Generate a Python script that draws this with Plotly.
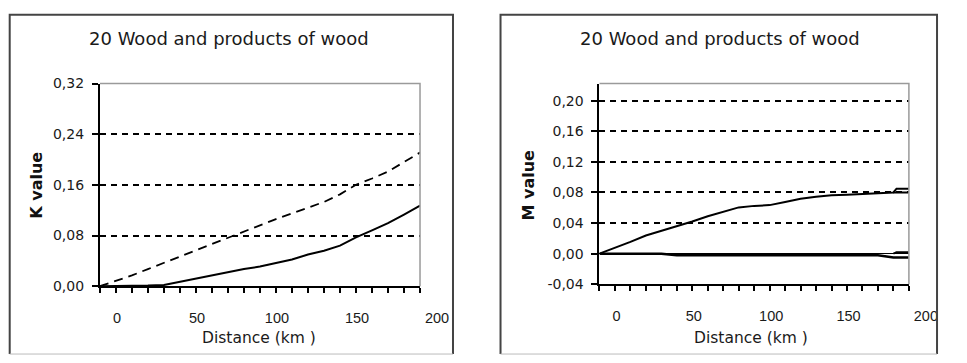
import plotly.graph_objects as go

# ---------------- data ----------------
DIST = [0, 10, 20, 30, 40, 50, 60, 70, 80, 90, 100,
        110, 120, 130, 140, 150, 160, 170, 180, 190, 200]

# Left chart: K value
K_DASHED = [0.000, 0.008, 0.017, 0.027, 0.037, 0.046, 0.056, 0.066, 0.077, 0.087, 0.097,
            0.106, 0.115, 0.124, 0.133, 0.145, 0.160, 0.170, 0.181, 0.196, 0.211]
K_SOLID = [0.000, 0.000, 0.000, 0.001, 0.002, 0.007, 0.012, 0.018, 0.023, 0.027, 0.031,
           0.036, 0.042, 0.050, 0.056, 0.064, 0.077, 0.088, 0.0995, 0.113, 0.127]

# Right chart: M value
M_UPPER_DIST = [0, 10, 20, 30, 40, 50, 60, 70, 80, 90, 100,
                110, 120, 130, 140, 150, 160, 170, 180, 190, 192, 200]
M_UPPER = [0.000, 0.0075, 0.0155, 0.0238, 0.030, 0.0355, 0.042, 0.049, 0.055, 0.0605, 0.0625,
           0.0635, 0.0675, 0.0718, 0.0743, 0.0763, 0.0772, 0.0781, 0.079, 0.080, 0.085, 0.085]
M_UPPER_ALT_DIST = [190, 200]
M_UPPER_ALT = [0.080, 0.080]
M_LOWER = [0.0, 0.0, 0.0, 0.0, 0.0, -0.002, -0.002, -0.002, -0.002, -0.002, -0.002,
           -0.002, -0.002, -0.002, -0.002, -0.002, -0.002, -0.002, -0.002, -0.005, -0.005]
M_LOWER_ALT_DIST = [190, 192, 200]
M_LOWER_ALT = [0.0, 0.002, 0.002]

X_TICKS = DIST
X_TICK_TEXT = ["0", "", "", "", "", "50", "", "", "", "", "100",
               "", "", "", "", "150", "", "", "", "", "200"]
K_TICKS = [0.00, 0.08, 0.16, 0.24, 0.32]
K_TICK_TEXT = ["0,00", "0,08", "0,16", "0,24", "0,32"]
M_TICKS = [-0.04, 0.00, 0.04, 0.08, 0.12, 0.16, 0.20]
M_TICK_TEXT = ["-0,04", "0,00", "0,04", "0,08", "0,12", "0,16", "0,20"]

TITLE = "20 Wood and products of wood"
X_TITLE = "Distance (km )"

# ---------------- layout helpers ----------------
W, H = 967, 363


def px(x):
    return x / W


def py(y):
    return 1 - y / H


fig = go.Figure()

line_black = dict(color="black", width=2)
fig.add_trace(go.Scatter(x=DIST, y=K_DASHED, mode="lines", xaxis="x", yaxis="y",
                         line=dict(color="black", width=1.8, dash="9px,6px")))
fig.add_trace(go.Scatter(x=DIST, y=K_SOLID, mode="lines", xaxis="x", yaxis="y",
                         line=line_black))

fig.add_trace(go.Scatter(x=M_UPPER_DIST, y=M_UPPER, mode="lines", xaxis="x2", yaxis="y2",
                         line=line_black))
fig.add_trace(go.Scatter(x=M_UPPER_ALT_DIST, y=M_UPPER_ALT, mode="lines", xaxis="x2", yaxis="y2",
                         line=line_black))
fig.add_trace(go.Scatter(x=DIST, y=M_LOWER, mode="lines", xaxis="x2", yaxis="y2",
                         line=dict(color="black", width=2.5)))
fig.add_trace(go.Scatter(x=M_LOWER_ALT_DIST, y=M_LOWER_ALT, mode="lines", xaxis="x2", yaxis="y2",
                         line=line_black))

xfont = dict(family="Liberation Sans, Arial, sans-serif", size=14.5, color="#1a1a1a")
yfont = dict(family="DejaVu Sans, sans-serif", size=14, color="#1a1a1a")


def xaxis_style(domain, anchor):
    return dict(domain=domain, anchor=anchor, range=[0, 200],
                tickmode="array", tickvals=X_TICKS, ticktext=X_TICK_TEXT,
                ticks="outside", ticklen=5, tickwidth=2, tickcolor="black",
                showline=True, linecolor="black", linewidth=2,
                showgrid=False, zeroline=False, tickfont=xfont,
                ticklabelshift=17, ticklabelstandoff=12, fixedrange=True)


def yaxis_style(domain, anchor, rng, vals, text, zero):
    return dict(domain=domain, anchor=anchor, range=rng,
                tickmode="array", tickvals=vals, ticktext=text,
                ticks="outside", ticklen=6, tickwidth=2, tickcolor="black",
                showline=True, linecolor="black", linewidth=2,
                showgrid=True, gridcolor="black", gridwidth=1.5, griddash="6px,5px",
                zeroline=zero, zerolinecolor="black", zerolinewidth=1.3,
                tickfont=yfont, ticklabelstandoff=5, fixedrange=True)


fig.update_layout(
    width=W, height=H, autosize=False,
    margin=dict(l=0, r=0, t=0, b=0),
    paper_bgcolor="white", plot_bgcolor="white",
    showlegend=False,
    xaxis=xaxis_style([px(103), px(433)], "y"),
    yaxis=yaxis_style([py(291), py(79)], "x", [0, 0.32], K_TICKS, K_TICK_TEXT, False),
    xaxis2=xaxis_style([px(618), px(937)], "y2"),
    yaxis2=yaxis_style([py(289), py(79)], "x2", [-0.04, 0.2225], M_TICKS, M_TICK_TEXT, True),
)

# plot-area frames (gray top/right) and outer chart boxes
shapes = []
for xr, yr in (("x domain", "y domain"), ("x2 domain", "y2 domain")):
    shapes.append(dict(type="path", xref=xr, yref=yr,
                       path="M 0,1 L 1,1 L 1,0",
                       line=dict(color="#9a9a9a", width=1.5), layer="above"))
for x0, x1 in ((10, 467), (516, 966)):
    shapes.append(dict(type="path", xref="paper", yref="paper",
                       path=f"M {px(x0)},{py(362)} L {px(x0)},{py(7)} L {px(x1)},{py(7)} L {px(x1)},{py(362)}",
                       line=dict(color="#444", width=2)))
    shapes.append(dict(type="line", xref="paper", yref="paper",
                       x0=px(x0), x1=px(x1), y0=py(362), y1=py(362),
                       line=dict(color="#bbb", width=1)))
fig.update_layout(shapes=shapes)

title_font = dict(family="DejaVu Sans, sans-serif", size=18, color="#1a1a1a")
axis_title_font = dict(family="DejaVu Sans, sans-serif", size=15.5, color="#1a1a1a")
ytitle_font = dict(family="DejaVu Sans, sans-serif", size=16, color="#111", weight="bold")

annotations = []
for cx in (236, 742):
    annotations.append(dict(text=TITLE, x=px(cx), y=py(32), xref="paper", yref="paper",
                            xanchor="center", yanchor="middle", showarrow=False, font=title_font))
for cx in (267, 774):
    annotations.append(dict(text=X_TITLE, x=px(cx), y=py(345), xref="paper", yref="paper",
                            xanchor="center", yanchor="middle", showarrow=False, font=axis_title_font))
for cx, t in ((38, "K value"), (545, "M value")):
    annotations.append(dict(text=t, x=px(cx), y=py(185), xref="paper", yref="paper",
                            xanchor="center", yanchor="middle", showarrow=False,
                            textangle=-90, font=ytitle_font))
fig.update_layout(annotations=annotations)

fig.write_html("out.html")
